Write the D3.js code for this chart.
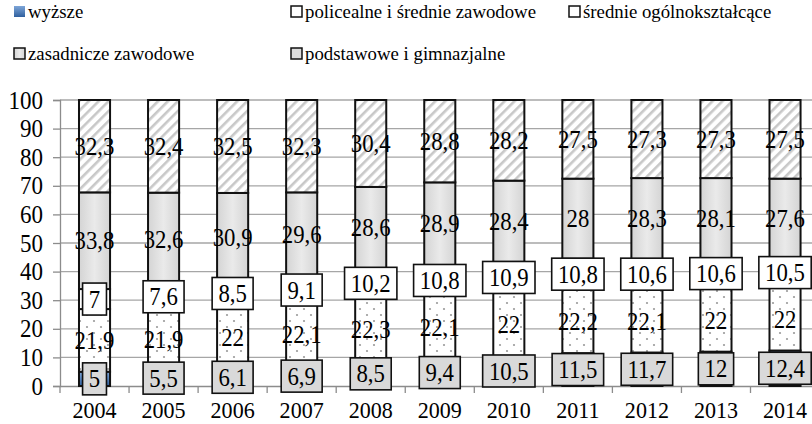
<!DOCTYPE html>
<html>
<head>
<meta charset="utf-8">
<script src="https://cdn.jsdelivr.net/npm/d3@7"></script>
<style>
html,body{margin:0;padding:0;background:#fff;}
svg{display:block;}
</style>
</head>
<body>
<svg id="chart" width="812" height="424"></svg>
<script>
const years = ["2004","2005","2006","2007","2008","2009","2010","2011","2012","2013","2014"];
const seriesNames = ["wyższe","policealne i średnie zawodowe","średnie ogólnokształcące","zasadnicze zawodowe","podstawowe i gimnazjalne"];
const wyzsze =      [5, 5.5, 6.1, 6.9, 8.5, 9.4, 10.5, 11.5, 11.7, 12, 12.4];
const policealne =  [21.9, 21.9, 22, 22.1, 22.3, 22.1, 22, 22.2, 22.1, 22, 22];
const srednieOgol = [7, 7.6, 8.5, 9.1, 10.2, 10.8, 10.9, 10.8, 10.6, 10.6, 10.5];
const zasadnicze =  [33.8, 32.6, 30.9, 29.6, 28.6, 28.9, 28.4, 28, 28.3, 28.1, 27.6];
const podstawowe =  [32.3, 32.4, 32.5, 32.3, 30.4, 28.8, 28.2, 27.5, 27.3, 27.3, 27.5];
const yTicks = [0,10,20,30,40,50,60,70,80,90,100];

const FONT = "Liberation Serif";
const seriesValues = [wyzsze, policealne, srednieOgol, zasadnicze, podstawowe];
const keys = ["k0","k1","k2","k3","k4"];
const table = years.map((yr,i)=>{const o={year:yr}; keys.forEach((k,j)=>o[k]=seriesValues[j][i]); return o;});

const svg = d3.select("#chart");
const defs = svg.append("defs");

const hatch = defs.append("pattern").attr("id","hatch").attr("patternUnits","userSpaceOnUse")
  .attr("width",7).attr("height",7).attr("patternTransform","rotate(45)");
hatch.append("rect").attr("width",7).attr("height",7).attr("fill","#fff");
hatch.append("rect").attr("x",0).attr("width",2.6).attr("height",7).attr("fill","#c8c8c8");

const dots = defs.append("pattern").attr("id","dots").attr("patternUnits","userSpaceOnUse")
  .attr("width",14).attr("height",12);
dots.append("rect").attr("width",14).attr("height",12).attr("fill","#fff");
dots.append("circle").attr("cx",3).attr("cy",3).attr("r",1.1).attr("fill","#9a9a9a");
dots.append("circle").attr("cx",10).attr("cy",9).attr("r",1.1).attr("fill","#9a9a9a");

const gGray = defs.append("linearGradient").attr("id","gray").attr("x1","0").attr("x2","1").attr("y1","0").attr("y2","0");
gGray.append("stop").attr("offset","0").attr("stop-color","#d4d4d4");
gGray.append("stop").attr("offset","0.5").attr("stop-color","#eaeaea");
gGray.append("stop").attr("offset","1").attr("stop-color","#d4d4d4");

const gBlue = defs.append("linearGradient").attr("id","blue").attr("x1","0").attr("x2","0").attr("y1","0").attr("y2","1");
gBlue.append("stop").attr("offset","0").attr("stop-color","#7ea6d8");
gBlue.append("stop").attr("offset","1").attr("stop-color","#2f5f9e");

const fills = ["url(#blue)","url(#dots)","#ffffff","url(#gray)","url(#hatch)"];

const plotLeft = 60, step = 69.05, plotTop = 100, plotBottom = 386;
const x = d3.scaleBand().domain(years).range([plotLeft, plotLeft + step*years.length]).paddingInner(0.55).paddingOuter(0.275);
const y = d3.scaleLinear().domain([0,100]).range([plotBottom, plotTop]);

svg.append("g").selectAll("line").data(yTicks.filter(d=>d>0)).join("line")
  .attr("x1",plotLeft).attr("x2",plotLeft + step*years.length)
  .attr("y1",d=>y(d)).attr("y2",d=>y(d))
  .attr("stroke","#a6a6a6").attr("stroke-width",1.3);

const ySX = 0.92;
const yAxis = svg.append("g").attr("transform",`translate(${plotLeft},0)`)
  .call(d3.axisLeft(y).tickValues(yTicks).tickSize(7).tickPadding(10).tickFormat(d3.format("d")));
yAxis.select(".domain").attr("stroke","#8c8c8c").attr("stroke-width",1.3);
yAxis.selectAll(".tick line").attr("stroke","#8c8c8c").attr("stroke-width",1.3);
yAxis.selectAll(".tick text").style("font-size","25px").style("font-family",FONT).attr("fill","#000")
  .attr("x",-17/ySX).attr("transform",`scale(${ySX},1)`);

const xSX = 0.92;
const xAxis = svg.append("g").attr("transform",`translate(0,${plotBottom})`)
  .call(d3.axisBottom(x).tickSize(0).tickPadding(13));
xAxis.select(".domain").attr("stroke","#8c8c8c").attr("stroke-width",1.3);
xAxis.selectAll(".tick text").style("font-size","24px").style("font-family",FONT).attr("fill","#000")
  .attr("y",32).attr("dy",0).attr("transform",`scale(${xSX},1)`);
xAxis.append("g").selectAll("line").data(d3.range(years.length+1)).join("line")
  .attr("x1",i=>plotLeft+i*step).attr("x2",i=>plotLeft+i*step).attr("y1",0).attr("y2",7)
  .attr("stroke","#8c8c8c").attr("stroke-width",1.3);

const stack = d3.stack().keys(keys)(table);
const bars = svg.append("g");
stack.forEach((layer,j)=>{
  bars.append("g").selectAll("rect").data(layer).join("rect")
    .attr("x",d=>x(d.data.year)).attr("width",x.bandwidth())
    .attr("y",d=>y(d[1])).attr("height",d=>y(d[0])-y(d[1]))
    .attr("fill",fills[j]).attr("stroke","#111").attr("stroke-width",2);
});

const lSX = 0.93;
const fmt = v => String(v).replace(".", ",");
const labels = svg.append("g");
stack.forEach((layer,j)=>{
  layer.forEach((d,i)=>{
    const cx = x(d.data.year) + x.bandwidth()/2;
    const cy = y((d[0]+d[1])/2);
    const g = labels.append("g");
    const t = g.append("text").attr("x",0).attr("y",0).attr("dy","0.35em")
      .attr("transform",`translate(${cx},${cy}) scale(${lSX},1)`)
      .attr("text-anchor","middle").style("font-size","24.5px").style("font-family",FONT)
      .attr("fill","#000").text(fmt(seriesValues[j][i]));
    if (j===0 || j===2) {
      const w = t.node().getComputedTextLength()*lSX + 12.5;
      g.insert("rect","text").attr("x",cx-w/2).attr("y",cy-16).attr("width",w).attr("height",32)
        .attr("fill", j===0 ? "#d9d9d9" : "#ffffff").attr("stroke","#111").attr("stroke-width",1.6);
    }
  });
});

const legendItems = [
  {i:0, x:13, y:18},
  {i:1, x:290, y:18},
  {i:2, x:568, y:18},
  {i:3, x:13, y:60},
  {i:4, x:290, y:60}
];
const legFills = ["url(#blue)","#ffffff","#ffffff","url(#gray)","#dcdcdc"];
const leg = svg.append("g");
legendItems.forEach(it=>{
  leg.append("rect").attr("x",it.x+1).attr("y",it.y-12).attr("width",11).attr("height",11)
    .attr("fill",legFills[it.i]).attr("stroke", it.i===0 ? "none" : "#111").attr("stroke-width",1.5);
  leg.append("text").attr("x",it.x+15).attr("y",it.y).style("font-size","18.8px").style("font-family",FONT)
    .attr("fill","#000").text(seriesNames[it.i]);
});
</script>
</body>
</html>
